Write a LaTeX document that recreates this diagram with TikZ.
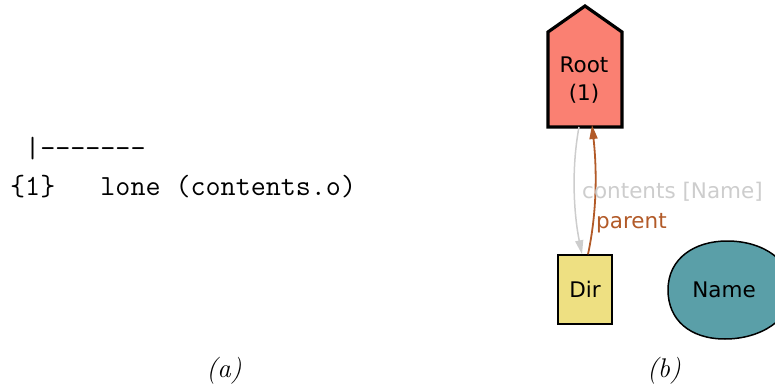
\documentclass[tikz,border=0pt]{standalone}
\usepackage{fontspec}
\newfontfamily\gfont{DejaVu Sans}
\usetikzlibrary{arrows.meta}
\definecolor{rootfill}{RGB}{250,128,114}
\definecolor{dirfill}{RGB}{238,224,130}
\definecolor{namefill}{RGB}{90,159,168}
\definecolor{edgegray}{RGB}{205,205,205}
\definecolor{edgebrown}{RGB}{178,90,40}
\tikzset{
  gtext/.style={font=\gfont\fontsize{21.5}{28}\selectfont, inner sep=0pt},
  ttline/.style={font=\ttfamily\fontsize{29.2}{36}\selectfont, anchor=base west, inner sep=0pt},
  caption/.style={font=\itshape\fontsize{27}{30}\selectfont, anchor=base, inner sep=0pt},
  edgelabel/.style={gtext, anchor=base west},
  arr/.style={-{Triangle[length=14pt,width=8pt]}},
}
\begin{document}
\begin{tikzpicture}[x=1pt,y=-1pt]
\useasboundingbox (0,0) rectangle (775,387);
\clip (0,0) rectangle (775,387);

% text view of the tree
\node[ttline] (l1) at (10,158) {\ \textbar-\kern0pt-\kern0pt-\kern0pt-\kern0pt-\kern0pt-\kern0pt-};
\node[ttline] (l2) at (10,196) {\{1\}\ \ \ lone (contents.o)};
\node[caption] (capa) at (224,377) {(a)};

% graph view: root house shape
\draw[line width=3.2pt, fill=rootfill, line join=miter]
  (585,6) -- (622,32) -- (622,127) -- (548,127) -- (548,32) -- cycle;
\node[gtext, align=center] (root) at (584,80) {Root\\(1)};
\coordinate (rootb) at (585,127);

\node[draw, line width=1.5pt, fill=dirfill, minimum width=54pt, minimum height=69pt, inner sep=0pt, gtext] (dir) at (585,289.5) {Dir};

% name blob
\draw[line width=1.5pt, fill=namefill]
  (668,290) .. controls (668,258) and (695,241) .. (727,241)
            .. controls (765,241) and (792,262) .. (792,290)
            .. controls (792,320) and (760,339) .. (725,339)
            .. controls (690,339) and (668,320) .. (668,290) -- cycle;
\node[gtext] (name) at (724,290) {Name};

% edges between root and dir
\draw[edgegray, line width=1.5pt, arr]
  ([xshift=-6pt]rootb) .. controls (571,170) and (574,215) .. ([xshift=-3pt]dir.north);
\draw[edgebrown, line width=1.8pt, arr]
  ([xshift=3pt]dir.north) .. controls (597,212) and (597,170) .. ([xshift=7pt,yshift=2pt]rootb);
\node[edgelabel, text=edgegray] (lc) at (582,199) {contents [Name]};
\node[edgelabel, text=edgebrown] (lp) at (596,229) {parent};

\node[caption] (capb) at (664,377) {(b)};
\end{tikzpicture}
\end{document}
